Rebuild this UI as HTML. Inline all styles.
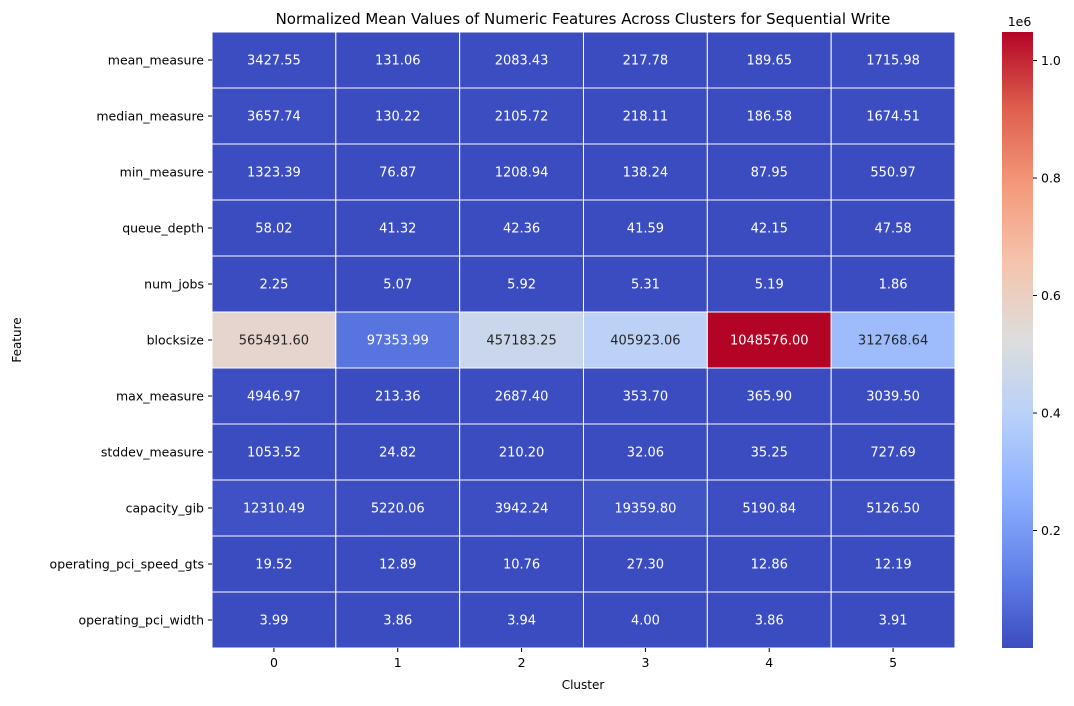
<!DOCTYPE html>
<html><head><meta charset="utf-8">
<style>
body{margin:0;background:#fff;font-family:"Liberation Sans","DejaVu Sans",sans-serif;}
svg text{font-family:"DejaVu Sans","Liberation Sans",sans-serif;}
</style></head>
<body>
<svg id="chart" width="1074" height="701" xmlns="http://www.w3.org/2000/svg">
<defs><linearGradient id="cbg" x1="0" y1="1" x2="0" y2="0"></linearGradient></defs>
<text x="583" y="24" text-anchor="middle" font-size="15">Normalized Mean Values of Numeric Features Across Clusters for Sequential Write</text>
<g id="cells"></g>
<g id="ylabels"></g>
<g id="xlabels"></g>
<text x="583" y="689" text-anchor="middle" font-size="12">Cluster</text>
<text x="21" y="340" text-anchor="middle" font-size="12" transform="rotate(-90 21 340)">Feature</text>
<g id="cbar"></g>
</svg>
<script>
const features=["mean_measure","median_measure","min_measure","queue_depth","num_jobs","blocksize","max_measure","stddev_measure","capacity_gib","operating_pci_speed_gts","operating_pci_width"];
const clusters=["0","1","2","3","4","5"];
const values=[
[3427.55,131.06,2083.43,217.78,189.65,1715.98],
[3657.74,130.22,2105.72,218.11,186.58,1674.51],
[1323.39,76.87,1208.94,138.24,87.95,550.97],
[58.02,41.32,42.36,41.59,42.15,47.58],
[2.25,5.07,5.92,5.31,5.19,1.86],
[565491.60,97353.99,457183.25,405923.06,1048576.00,312768.64],
[4946.97,213.36,2687.40,353.70,365.90,3039.50],
[1053.52,24.82,210.20,32.06,35.25,727.69],
[12310.49,5220.06,3942.24,19359.80,5190.84,5126.50],
[19.52,12.89,10.76,27.30,12.86,12.19],
[3.99,3.86,3.94,4.00,3.86,3.91]];
const cbTicks=[0.2,0.4,0.6,0.8,1.0];
const NS="http://www.w3.org/2000/svg";
const X0=212,X1=955,Y0=32,Y1=648;
const cw=(X1-X0)/clusters.length, ch=(Y1-Y0)/features.length;
const all=values.flat(); const vmin=Math.min(...all), vmax=Math.max(...all);
const stops=[[59,76,192],[98,130,234],[141,176,254],[184,208,249],[221,221,221],[245,196,173],[244,154,123],[222,96,77],[180,4,38]];
function cmap(t){t=Math.max(0,Math.min(1,t));const p=t*8,i=Math.min(7,Math.floor(p)),f=p-i;const a=stops[i],b=stops[i+1];return a.map((v,k)=>Math.round(v+(b[k]-v)*f));}
function lum(c){const l=c.map(v=>{v/=255;return v<=0.03928?v/12.92:Math.pow((v+0.055)/1.055,2.4)});return 0.2126*l[0]+0.7152*l[1]+0.0722*l[2];}
function mk(tag,attrs,parent){const e=document.createElementNS(NS,tag);for(const k in attrs)e.setAttribute(k,attrs[k]);parent.appendChild(e);return e;}
const cells=document.getElementById('cells');
values.forEach((row,r)=>row.forEach((v,c)=>{
 const col=cmap((v-vmin)/(vmax-vmin));
 const rect=mk('rect',{x:X0+c*cw,y:Y0+r*ch,width:cw,height:ch,fill:`rgb(${col})`,stroke:'#fff','stroke-width':1},cells);
 
 
 const t=mk('text',{x:X0+(c+.5)*cw,y:Y0+(r+.5)*ch+4.5,'text-anchor':'middle','font-size':13,fill:lum(col)>0.408?'#262626':'#fff'},cells);
 t.textContent=v.toFixed(2);
 
 
}));
const yl=document.getElementById('ylabels');
features.forEach((f,r)=>{const y=Y0+(r+.5)*ch;
 mk('line',{x1:X0-4,x2:X0,y1:y,y2:y,stroke:'#000'},yl);
 const t=mk('text',{x:X0-8,y:y+4.5,'text-anchor':'end','font-size':12.5},yl);t.textContent=f;
 
 });
const xl=document.getElementById('xlabels');
clusters.forEach((c,i)=>{const x=X0+(i+.5)*cw;
 mk('line',{x1:x,x2:x,y1:Y1,y2:Y1+4,stroke:'#000'},xl);
 const t=mk('text',{x:x,y:Y1+19,'text-anchor':'middle','font-size':12.5},xl);t.textContent=c;
 
 });
// colorbar
const cb=document.getElementById('cbar');const CX=1002,CW=31;
const grad=document.getElementById('cbg');
for(let i=0;i<=16;i++){mk('stop',{offset:i/16,'stop-color':`rgb(${cmap(i/16)})`},grad);}
const cbr=mk('rect',{x:CX,y:Y0,width:CW,height:Y1-Y0,fill:'url(#cbg)'},cb);


const cy=v=>Y1-(v-vmin)/(vmax-vmin)*(Y1-Y0);
cbTicks.forEach(t=>{const y=cy(t*1e6);
 mk('line',{x1:CX+CW,x2:CX+CW+4,y1:y,y2:y,stroke:'#000'},cb);
 const tx=mk('text',{x:CX+CW+8,y:y+4.5,'font-size':12.5},cb);tx.textContent=t.toFixed(1);
 
 });
const e=mk('text',{x:CX+CW/2+2,y:Y0-6,'text-anchor':'middle','font-size':12.5},cb);e.textContent='1e6';


</script>
</body></html>
